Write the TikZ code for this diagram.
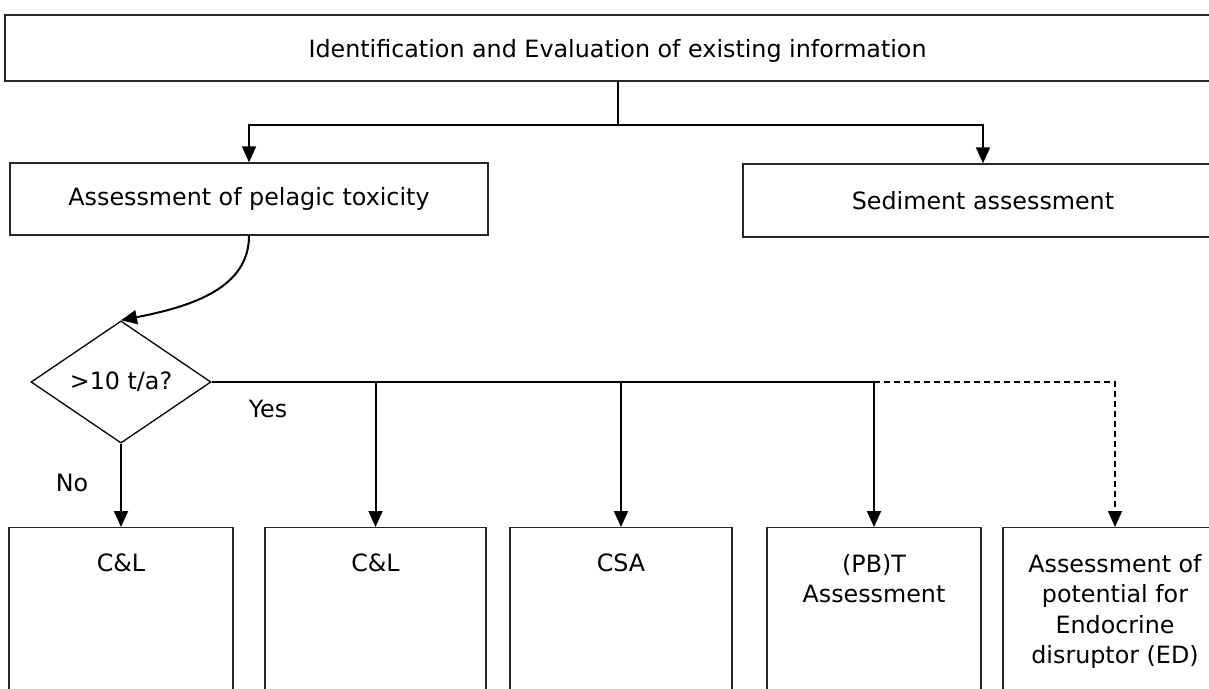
\documentclass[tikz,border=0pt]{standalone}
\usepackage{fontspec}
\setmainfont{DejaVu Sans}
\usetikzlibrary{arrows.meta,shapes.geometric,positioning}

\begin{document}
\begin{tikzpicture}[x=1pt, y=1pt,
        every node/.style={font=\fontsize{23.8}{30.5}\selectfont},
        box/.style={draw=black!85, line width=1.4pt, rectangle, inner sep=0pt},
        query/.style={draw, line width=1.3pt, diamond, inner sep=0pt,
            minimum width=180pt, minimum height=119pt},
        flow/.style={line width=2pt},
        arrowline/.style={flow, -{Triangle[length=16pt, width=14pt]}},
        boxtext/.style={inner sep=0pt, align=center}]
        \useasboundingbox (0,0) rectangle (1209,-688);
        \clip (0,0) rectangle (1209,-688);
        \node[box, minimum width=1225pt, minimum height=66pt, text depth=0pt] (info) at (617.5,-48)
            {Identification and Evaluation of existing information};
        \node[box, minimum width=478pt, minimum height=72pt] (pel) at (249,-199) {Assessment of pelagic toxicity};
        \node[box, minimum width=480pt, minimum height=73pt] (sed) at (983,-200.5) {Sediment assessment};
        \node[query] (q) at (121,-382) {>10 t/a?};
        \node (yes) at (268,-409) {Yes};
        \node (no) at (72,-483) {No};
        \node[box, anchor=north, minimum width=224pt, minimum height=200pt] (cl1) at (121,-527) {};
        \node[box, anchor=north, minimum width=221pt, minimum height=200pt] (cl2) at (375.5,-527) {};
        \node[box, anchor=north, minimum width=222pt, minimum height=200pt] (csa) at (621,-527) {};
        \node[box, anchor=north, minimum width=214pt, minimum height=200pt] (pbt) at (874,-527) {};
        \node[box, anchor=north, minimum width=224pt, minimum height=200pt] (ed) at (1115,-527) {};
        \node[boxtext, below=27pt of cl1.north] (cl1txt) {C\&L};
        \node[boxtext, below=27pt of cl2.north] (cl2txt) {C\&L};
        \node[boxtext, below=27pt of csa.north] (csatxt) {CSA};
        \node[boxtext, below=27pt of pbt.north] (pbttxt) {(PB)T\\Assessment};
        \node[boxtext, below=27pt of ed.north] (edtxt) {Assessment of\\potential for\\Endocrine\\disruptor (ED)};
        \coordinate (fork) at ([yshift=-43pt]info.south);
        \coordinate (bend) at (pbt.north |- q.east);
        \draw[flow] (info.south) -- (fork);
        \draw[arrowline] (fork) -| (pel.north);
        \draw[arrowline] (fork) -| (sed.north);
        \draw[arrowline] (pel.south) .. controls +(0,-52) and +(72,14) .. (q.north);
        \draw[arrowline] (q.south) -- (cl1.north);
        \draw[flow] (q.east) -- (bend);
        \draw[arrowline] (cl2.north |- q.east) -- (cl2.north);
        \draw[arrowline] (csa.north |- q.east) -- (csa.north);
        \draw[arrowline] (bend) -- (pbt.north);
        \draw[arrowline, line width=1.5pt, dash pattern=on 6pt off 4pt] (bend) -| (ed.north);
\end{tikzpicture}
\end{document}
